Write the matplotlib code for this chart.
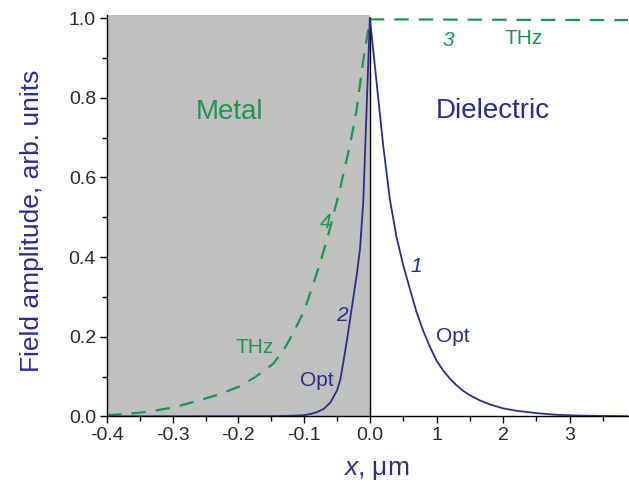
import numpy as np
import matplotlib
matplotlib.use("Agg")
import matplotlib.pyplot as plt

plt.rcParams['font.family'] = ['Liberation Sans', 'DejaVu Sans']
plt.rcParams['mathtext.fontset'] = 'custom'
plt.rcParams['mathtext.it'] = 'Liberation Sans:italic'
plt.rcParams['mathtext.rm'] = 'Liberation Sans'

# ---- data ----
# curve 1: optical field in dielectric (x in um)
opt_diel_x = [0.0, 0.1, 0.2, 0.3, 0.4, 0.5, 0.6, 0.7, 0.8, 0.9, 1.0, 1.1, 1.2, 1.3,
              1.4, 1.5, 1.65, 1.8, 2.0, 2.2, 2.5, 2.8, 3.1, 3.5, 3.9]
opt_diel_y = [1.0, 0.84, 0.68, 0.545, 0.45, 0.38, 0.32, 0.262, 0.215, 0.175, 0.14,
              0.115, 0.095, 0.078, 0.064, 0.053, 0.040, 0.030, 0.020, 0.014, 0.008,
              0.004, 0.002, 0.001, 0.0005]
# curve 2: optical field in metal
opt_metal_x = [-0.40, -0.15, -0.12, -0.10, -0.09, -0.08, -0.07, -0.06, -0.05, -0.045,
               -0.04, -0.035, -0.03, -0.025, -0.02, -0.015, -0.01, -0.005, 0.0]
opt_metal_y = [0.0, 0.0005, 0.0015, 0.003, 0.006, 0.011, 0.019, 0.035, 0.065, 0.092,
               0.14, 0.19, 0.245, 0.30, 0.355, 0.42, 0.54, 0.77, 1.0]
# curve 3: THz field in dielectric
thz_diel_x = [0.0, 3.90]
thz_diel_y = [0.997, 0.995]
# curve 4: THz field in metal
thz_metal_x = [-0.40, -0.37, -0.34, -0.30, -0.26, -0.23, -0.20, -0.175, -0.147, -0.13,
               -0.117, -0.10, -0.086, -0.073, -0.061, -0.0456, -0.0355, -0.028, -0.0203,
               -0.0101, -0.0025, 0.0]
thz_metal_y = [0.003, 0.006, 0.011, 0.022, 0.040, 0.055, 0.074, 0.098, 0.132, 0.170,
               0.208, 0.265, 0.333, 0.40, 0.47, 0.57, 0.643, 0.70, 0.769, 0.894, 0.97, 1.0]

xticks = [-0.4, -0.3, -0.2, -0.1, 0.0, 1, 2, 3]
xticklabels = ['-0.4', '-0.3', '-0.2', '-0.1', '0.0', '1', '2', '3']
xminor = [-0.35, -0.25, -0.15, -0.05, 0.5, 1.5, 2.5, 3.5]
yticks = [0.0, 0.2, 0.4, 0.6, 0.8, 1.0]
yticklabels = ['0.0', '0.2', '0.4', '0.6', '0.8', '1.0']
yminor = [0.1, 0.3, 0.5, 0.7, 0.9]

NAVY = '#2b2e86'
GREEN = '#1e9650'
K = 9.86  # metal side is stretched


def fwd(x):
    x = np.asarray(x, dtype=float)
    return np.where(x < 0, x * K, x)


def inv(u):
    u = np.asarray(u, dtype=float)
    return np.where(u < 0, u / K, u)


fig = plt.figure(figsize=(6.29, 4.83), dpi=100)
ax = fig.add_axes([0.1701, 0.138, 0.828, 0.831])
ax.set_xscale('function', functions=(fwd, inv))
ax.set_xlim(-0.4, 3.87)
ax.set_ylim(0, 1.008)

ax.axvspan(-0.4, 0.0, color='#c0c0c0', zorder=0, lw=0)
ax.plot([0, 0], [0, 1.0], color='black', lw=1.0, zorder=1)

ax.plot(opt_diel_x, opt_diel_y, color=NAVY, lw=1.3, zorder=3)
ax.plot(opt_metal_x, opt_metal_y, color=NAVY, lw=1.3, zorder=3)
ax.plot(thz_diel_x, thz_diel_y, color=GREEN, lw=1.6, dashes=(6.5, 4.5), zorder=2)
ax.plot(thz_metal_x, thz_metal_y, color=GREEN, lw=1.6, dashes=(6.5, 4.5), zorder=2)

for s in ['top', 'right']:
    ax.spines[s].set_visible(False)
for s in ['left', 'bottom']:
    ax.spines[s].set_linewidth(1.0)

ax.set_xticks(xticks)
ax.set_xticklabels(xticklabels)
ax.set_xticks(xminor, minor=True)
ax.set_yticks(yticks)
ax.set_yticklabels(yticklabels)
ax.set_yticks(yminor, minor=True)
ax.tick_params(which='major', direction='out', length=5, width=1.0,
               labelsize=14, labelcolor='#2a2a2a', pad=3)
ax.tick_params(which='minor', direction='out', length=3.5, width=1.0)

ax.set_ylabel('Field amplitude, arb. units', fontsize=19, color=NAVY)
ax.yaxis.set_label_coords(-0.12, 0.487)
ax.set_xlabel(r'$x$, μm', fontsize=19, color=NAVY)
ax.xaxis.set_label_coords(0.516, -0.105)

ax.text(-0.213, 0.764, 'Metal', color=GREEN, fontsize=20, ha='center', va='center')
ax.text(1.84, 0.766, 'Dielectric', color=NAVY, fontsize=20, ha='center', va='center')
ax.text(1.17, 0.945, '3', color=GREEN, fontsize=15, style='italic', ha='center', va='center')
ax.text(2.31, 0.95, 'THz', color=GREEN, fontsize=15, ha='center', va='center')
ax.text(-0.068, 0.488, '4', color=GREEN, fontsize=15, style='italic', ha='center', va='center')
ax.text(-0.175, 0.173, 'THz', color=GREEN, fontsize=15, ha='center', va='center')
ax.text(-0.081, 0.09, 'Opt', color=NAVY, fontsize=15, ha='center', va='center')
ax.text(-0.043, 0.254, '2', color=NAVY, fontsize=15, style='italic', ha='center', va='center')
ax.text(0.70, 0.376, '1', color=NAVY, fontsize=15, style='italic', ha='center', va='center')
ax.text(1.245, 0.20, 'Opt', color=NAVY, fontsize=15, ha='center', va='center')

fig.savefig('out.png', dpi=100)
